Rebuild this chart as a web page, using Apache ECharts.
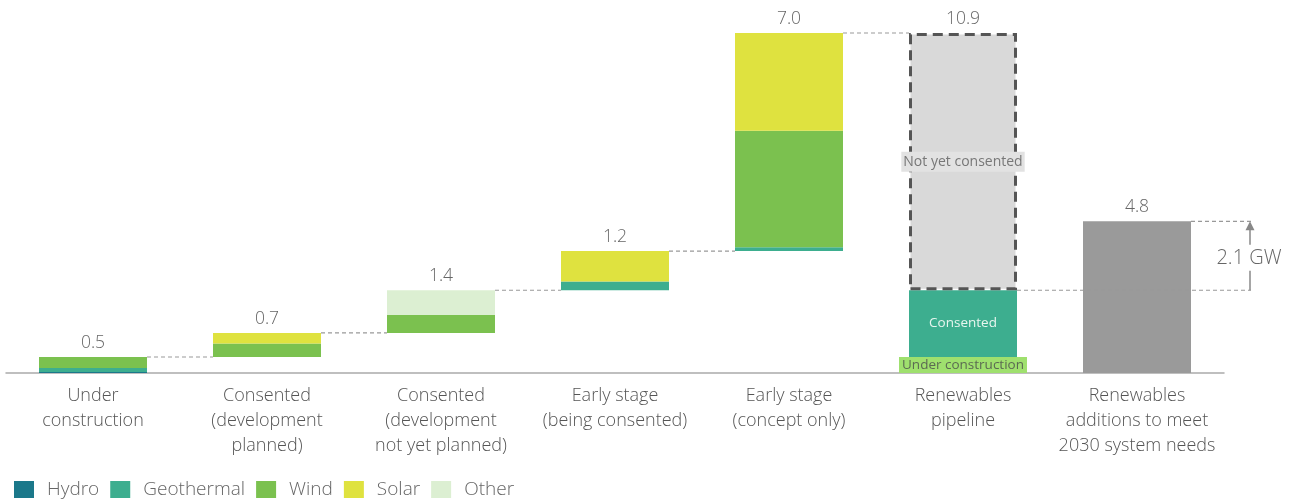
<!DOCTYPE html>
<html><head><meta charset="utf-8">
<script src="https://cdn.jsdelivr.net/npm/echarts@6/dist/echarts.min.js"></script>
<style>html,body{margin:0;padding:0;background:#fff}#c{width:1292px;height:501px}</style>
</head><body><div id="c"></div>
<script>
// ---- data ----
const categories = ['Under\nconstruction', 'Consented\n(development\nplanned)', 'Consented\n(development\nnot yet planned)', 'Early stage\n(being consented)', 'Early stage\n(concept only)', 'Renewables\npipeline', 'Renewables\nadditions to meet\n2030 system needs'];
const hydro      = [0.03, 0,    0,    0,    0];
const geothermal = [0.13, 0,    0,    0.28, 0.12];
const wind       = [0.35, 0.43, 0.58, 0,    3.72];
const solar      = [0,    0.34, 0,    0.97, 3.12];
const other      = [0,    0,    0.78, 0,    0];
const totalLabels = ['0.5', '0.7', '1.4', '1.2', '7.0', '10.9', '4.8'];
const systemNeed = 4.84;
const gapLabel = '2.1 GW';
const legendNames = ['Hydro', 'Geothermal', 'Wind', 'Solar', 'Other'];

// ---- derived for the waterfall ----
const stageTotals = hydro.map((_, i) => hydro[i] + geothermal[i] + wind[i] + solar[i] + other[i]);
const base = [];
let cum = 0;
stageTotals.forEach(t => { base.push(+cum.toFixed(3)); cum += t; });
const pipelineTotal = cum;
const pipeUC = stageTotals[0];
const pipeConsented = stageTotals[1] + stageTotals[2];
const pipeNotYet = stageTotals[3] + stageTotals[4];
const pad = (arr) => arr.map(v => v === 0 ? '-' : v).concat(['-', '-']);
const only = (idx, v) => categories.map((_, i) => i === idx ? +v.toFixed(3) : '-');

const COLORS = { Hydro: '#1B788A', Geothermal: '#3DAE8F', Wind: '#7BC14F', Solar: '#DFE23F', Other: '#DCEFD2' };
const BW = 108;
const FONT = '"Open Sans", Lato, sans-serif';

function stageSeries(name, arr) {
  return { name, type: 'bar', stack: 'a', barWidth: BW, data: pad(arr),
    itemStyle: { color: COLORS[name] }, emphasis: { disabled: true } };
}

const tops = stageTotals.map((t, i) => base[i] + t).concat([pipelineTotal, systemNeed]);
const connectors = [];
for (let i = 0; i < 5; i++) connectors.push([i, i + 1, tops[i], 0]);
connectors.push([5, 6, pipeUC + pipeConsented, 1]);
connectors.push([6, 6, systemNeed, 2]);

const chart = echarts.init(document.getElementById('c'));
chart.setOption({
  animation: false,
  textStyle: { fontFamily: FONT },
  grid: { left: 6, right: 68, top: 28.3, bottom: 128, containLabel: false },
  legend: { data: legendNames, left: 9, top: 475, icon: 'rect', itemWidth: 20, itemHeight: 17, itemGap: 11,
    textStyle: { fontSize: 19, color: '#666', fontFamily: FONT, fontWeight: 300, padding: [0, 0, 0, 8] } },
  xAxis: { type: 'category', data: categories,
    axisTick: { show: false },
    axisLine: { lineStyle: { color: '#aaa', width: 1.5 } },
    axisLabel: { interval: 0, color: '#555', fontSize: 18, fontWeight: 300, lineHeight: 25, margin: 10, fontFamily: FONT } },
  yAxis: { type: 'value', min: 0, max: 11, show: false, splitLine: { show: false } },
  series: [
    { name: 'base', type: 'bar', stack: 'a', barWidth: BW, data: base.concat(['-', '-']), itemStyle: { color: 'transparent' }, emphasis: { disabled: true }, silent: true },
    stageSeries('Hydro', hydro),
    stageSeries('Geothermal', geothermal),
    stageSeries('Wind', wind),
    stageSeries('Solar', solar),
    stageSeries('Other', other),
    { name: 'Under construction', type: 'bar', stack: 'a', barWidth: BW,
      data: only(5, pipeUC),
      itemStyle: { color: '#7BC14F' },
      label: { show: true, position: 'inside', formatter: 'Under construction',
        color: '#5b6a52', fontSize: 13.5, backgroundColor: '#9FE06E', padding: [1, 3, 1, 3], fontFamily: FONT } },
    { name: 'Consented', type: 'bar', stack: 'a', barWidth: BW,
      data: only(5, pipeConsented),
      itemStyle: { color: '#3DAE8F' },
      label: { show: true, position: 'inside', formatter: 'Consented',
        color: '#e8f6ef', fontSize: 13.5, fontFamily: FONT } },
    { name: 'Not yet consented', type: 'bar', stack: 'a', barWidth: BW,
      data: only(5, pipeNotYet),
      itemStyle: { color: '#D9D9D9', borderColor: '#555', borderWidth: 3, borderType: [10, 6] },
      label: { show: true, position: 'inside', formatter: 'Not yet consented',
        color: '#777', fontSize: 14, backgroundColor: '#e2e2e2', padding: [3, 2, 3, 2], fontFamily: FONT } },
    { name: 'System needs', type: 'bar', stack: 'a', barWidth: BW,
      data: only(6, systemNeed),
      itemStyle: { color: '#9A9A9A' } },
    { name: 'connectors', type: 'custom', z: 10, silent: true, data: connectors,
      renderItem: (params, api) => {
        const i0 = api.value(0), i1 = api.value(1), v = api.value(2), kind = api.value(3);
        const p0 = api.coord([i0, v]), p1 = api.coord([i1, v]);
        const x1 = p0[0] + BW / 2;
        const x2 = kind === 0 ? p1[0] - BW / 2 : p1[0] + BW / 2 + 60;
        return { type: 'line', shape: { x1, y1: p0[1], x2, y2: p0[1] },
          style: { stroke: '#999', lineWidth: 1.2, lineDash: [4, 3] } };
      } },
    { name: 'gap', type: 'custom', z: 11, silent: true, data: [[6, pipeUC + pipeConsented, systemNeed]],
      renderItem: (params, api) => {
        const lo = api.coord([api.value(0), api.value(1)]);
        const hi = api.coord([api.value(0), api.value(2)]);
        const x = lo[0] + BW / 2 + 59;
        const ym = (lo[1] + hi[1]) / 2;
        return { type: 'group', children: [
          { type: 'line', shape: { x1: x, y1: lo[1], x2: x, y2: hi[1] + 6 }, style: { stroke: '#888', lineWidth: 1.5 } },
          { type: 'polygon', shape: { points: [[x, hi[1]], [x - 4.5, hi[1] + 9], [x + 4.5, hi[1] + 9]] }, style: { fill: '#888' } },
          { type: 'text', x: x - 1, y: ym + 2, style: { text: gapLabel, fill: '#666', fontSize: 20, fontWeight: 300, fontFamily: FONT,
            align: 'center', verticalAlign: 'middle', backgroundColor: '#fff', padding: [3, 2, 3, 2] } }
        ] };
      } },
    { name: 'totals', type: 'custom', z: 12, silent: true, data: tops.map((t, i) => [i, t]),
      renderItem: (params, api) => {
        const p = api.coord([api.value(0), api.value(1)]);
        return { type: 'text', x: p[0], y: p[1] - 14,
          style: { text: totalLabels[params.dataIndex], fill: '#666', fontSize: 17.5, fontWeight: 300, fontFamily: FONT, align: 'center', verticalAlign: 'middle' } };
      } }
  ]
});
</script>
</body></html>
